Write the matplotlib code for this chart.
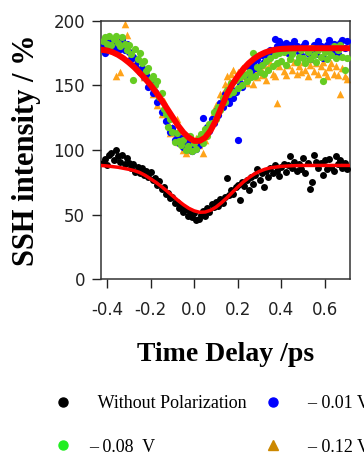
import matplotlib
matplotlib.use("Agg")
import matplotlib.pyplot as plt
from matplotlib.lines import Line2D

plt.rcParams['axes.unicode_minus'] = False

# time delay of the scan (ps)
delay = [-0.42, -0.41, -0.40, -0.39, -0.38, -0.37, -0.36, -0.35, -0.34, -0.33,
         -0.32, -0.31, -0.30, -0.29, -0.28, -0.27, -0.26, -0.25, -0.24, -0.23,
         -0.22, -0.21, -0.20, -0.19, -0.18, -0.17, -0.16, -0.15, -0.14, -0.13,
         -0.12, -0.11, -0.10, -0.09, -0.08, -0.07, -0.06, -0.05, -0.04, -0.03,
         -0.02, -0.01, 0.00, 0.01, 0.02, 0.03, 0.04, 0.05, 0.06, 0.07,
         0.08, 0.09, 0.10, 0.11, 0.12, 0.13, 0.14, 0.15, 0.16, 0.17,
         0.18, 0.19, 0.20, 0.21, 0.22, 0.23, 0.24, 0.25, 0.26, 0.27,
         0.28, 0.29, 0.30, 0.31, 0.32, 0.33, 0.34, 0.35, 0.36, 0.37,
         0.38, 0.39, 0.40, 0.41, 0.42, 0.43, 0.44, 0.45, 0.46, 0.47,
         0.48, 0.49, 0.50, 0.51, 0.52, 0.53, 0.54, 0.55, 0.56, 0.57,
         0.58, 0.59, 0.60, 0.61, 0.62, 0.63, 0.64, 0.65, 0.66, 0.67,
         0.68, 0.69, 0.70]

no_pol = [90, 93, 88, 96, 98, 92, 100, 95, 91, 96,
          89, 94, 90, 86, 89, 83, 87, 82, 86, 81,
          84, 79, 83, 77, 78, 73, 76, 70, 71, 66,
          67, 63, 64, 59, 60, 55, 57, 52, 54, 49,
          52, 48, 51, 46, 47, 50, 53, 49, 55, 52,
          58, 56, 60, 57, 62, 59, 64, 78, 65, 69,
          66, 71, 73, 61, 75, 72, 77, 69, 79, 74,
          81, 85, 77, 82, 71, 84, 79, 86, 82, 88,
          84, 80, 87, 89, 83, 88, 95, 86, 91, 84,
          89, 85, 94, 82, 90, 70, 75, 96, 91, 86,
          90, 81, 92, 85, 93, 87, 84, 95, 89, 92,
          86, 90, 85]

v001 = [181, 175, 184, 178, 185, 180, 176, 183, 178, 185,
        177, 182, 176, 170, 172, 165, 169, 160, 163, 156,
        158, 149, 153, 144, 145, 137, 139, 129, 131, 122,
        124, 114, 117, 108, 112, 105, 109, 102, 106, 101,
        104, 99, 103, 101, 104, 107, 125, 112, 118, 115,
        124, 121, 130, 127, 136, 133, 143, 139, 136, 147,
        140, 145, 108, 152, 149, 158, 156, 164, 160, 167,
        163, 170, 166, 173, 168, 175, 171, 177, 174, 186,
        180, 184, 182, 178, 183, 175, 181, 177, 184, 180,
        176, 173, 180, 183, 175, 170, 178, 181, 174, 184,
        180, 171, 178, 181, 185, 176, 182, 178, 174, 183,
        185, 179, 184]

v008 = [184, 187, 182, 188, 181, 186, 188, 183, 180, 187,
        182, 177, 181, 174, 154, 178, 170, 175, 167, 169,
        161, 163, 155, 157, 150, 153, 141, 144, 132, 128,
        118, 124, 114, 106, 113, 107, 104, 108, 100, 103,
        111, 99, 105, 101, 109, 112, 105, 116, 111, 120,
        121, 129, 124, 133, 131, 140, 137, 146, 143, 152,
        145, 154, 148, 156, 150, 158, 153, 160, 156, 175,
        157, 164, 160, 166, 159, 169, 162, 171, 165, 173,
        167, 175, 169, 176, 166, 177, 170, 174, 178, 168,
        172, 177, 171, 167, 176, 170, 179, 173, 168, 177,
        172, 153, 176, 170, 178, 173, 180, 171, 177, 181,
        172, 162, 171]

v012 = [182, 186, 179, 188, 183, 177, 157, 185, 160, 181,
        197, 189, 178, 175, 174, 168, 170, 163, 166, 156,
        158, 150, 151, 143, 146, 135, 139, 128, 138, 124,
        121, 113, 118, 110, 124, 106, 107, 100, 98, 105,
        100, 107, 102, 109, 104, 111, 98, 108, 116, 119,
        126, 128, 135, 136, 143, 144, 151, 157, 152, 159,
        162, 155, 160, 154, 163, 157, 152, 161, 165, 151,
        162, 156, 164, 158, 166, 154, 163, 167, 159, 157,
        136, 165, 169, 161, 158, 166, 171, 162, 168, 159,
        165, 160, 168, 162, 157, 166, 170, 161, 167, 159,
        165, 168, 160, 157, 164, 167, 159, 165, 158, 143,
        163, 157, 155]

# fitted curves
fit_t_up = [-0.43, -0.40, -0.375, -0.35, -0.325, -0.30, -0.275, -0.25, -0.225, -0.20,
            -0.175, -0.15, -0.125, -0.10, -0.075, -0.05, -0.025, 0.00, 0.025, 0.05,
            0.075, 0.10, 0.125, 0.15, 0.175, 0.20, 0.225, 0.25, 0.275, 0.30,
            0.325, 0.35, 0.375, 0.40, 0.45, 0.50, 0.60, 0.715]
fit_up = [177.5, 176.8, 175.5, 173.5, 170.8, 167.5, 163.8, 159.5, 155, 150,
          144.5, 138.5, 132, 125.5, 119, 113.5, 109.5, 107, 107, 109.5,
          115, 123, 133, 143, 150.5, 157, 162.5, 167, 170.5, 173.3,
          175.3, 176.7, 177.6, 178.1, 178.5, 178.6, 178.6, 178.6]

fit_t_low = [-0.43, -0.40, -0.35, -0.30, -0.275, -0.25, -0.225, -0.20, -0.175, -0.15,
             -0.125, -0.10, -0.075, -0.05, -0.025, 0.00, 0.025, 0.05, 0.075, 0.10,
             0.125, 0.15, 0.175, 0.20, 0.225, 0.25, 0.275, 0.30, 0.325, 0.35,
             0.40, 0.45, 0.50, 0.60, 0.715]
fit_low = [88, 87.6, 86.6, 85, 84, 82.5, 80.3, 77.6, 74.8, 71.6,
           68.2, 64.6, 61, 57.7, 54.9, 52.9, 51.8, 52, 53.4, 55.8,
           59.2, 63, 67.2, 71.3, 75.2, 78.5, 81.3, 83.5, 85.1, 86.2,
           87.3, 87.8, 88, 88, 88]

fig = plt.figure(figsize=(3.64, 4.53), dpi=100)
ax = fig.add_axes([0.2775, 0.3834, 0.684, 0.5713])

ax.scatter(delay, v012, marker='^', s=30, color='#ffa31a', lw=0, zorder=2)
ax.scatter(delay, v001, marker='o', s=27, color='#0000ff', lw=0, zorder=3)
ax.scatter(delay, v008, marker='o', s=27, color='#66cc22', lw=0, zorder=4)
ax.scatter(delay, no_pol, marker='o', s=25, color='black', lw=0, zorder=5)
ax.plot(fit_t_up, fit_up, color='#ff0000', lw=4.3, zorder=6, solid_capstyle='butt')
ax.plot(fit_t_low, fit_low, color='#ff0000', lw=2.5, zorder=6, solid_capstyle='butt')

ax.set_xlim(-0.428, 0.715)
ax.set_ylim(0, 200)
ax.set_xticks([-0.4, -0.2, 0.0, 0.2, 0.4, 0.6])
ax.set_xticklabels(['-0.4', '-0.2', '0.0', '0.2', '0.4', '0.6'])
ax.set_yticks([0, 50, 100, 150, 200])
ax.tick_params(direction='out', length=6.5, width=1, labelsize=12,
               colors='#222222', pad=5)
ax.tick_params(axis='x', pad=9)
for sp in ax.spines.values():
    sp.set_linewidth(1.1)
    sp.set_color('#333333')

ax.set_xlabel('Time Delay /ps', family='Liberation Serif', weight='bold',
              fontsize=20, labelpad=17)
ax.set_ylabel('SSH intensity / %', family='Liberation Serif', weight='bold',
              fontsize=22, labelpad=9)

handles = [
    Line2D([], [], ls='none', marker='o', ms=6.5, color='black'),
    Line2D([], [], ls='none', marker='o', ms=6.5, color='#22ee22'),
    Line2D([], [], ls='none', marker='o', ms=6.5, color='#0000ff'),
    Line2D([], [], ls='none', marker='^', ms=7, color='#cc8800'),
]
labels = ['  Without Polarization', '\u2013 0.08  V', '  \u2013 0.01 V', '  \u2013 0.12 V']
fig.legend(handles, labels, ncol=2, loc='upper left',
           bbox_to_anchor=(0.148, 0.128), frameon=False,
           prop={'family': 'Liberation Serif', 'size': 13},
           handlelength=1.0, handletextpad=0.95, columnspacing=0.97,
           labelspacing=1.48, borderpad=0, borderaxespad=0)

fig.savefig('out.png', dpi=100)
